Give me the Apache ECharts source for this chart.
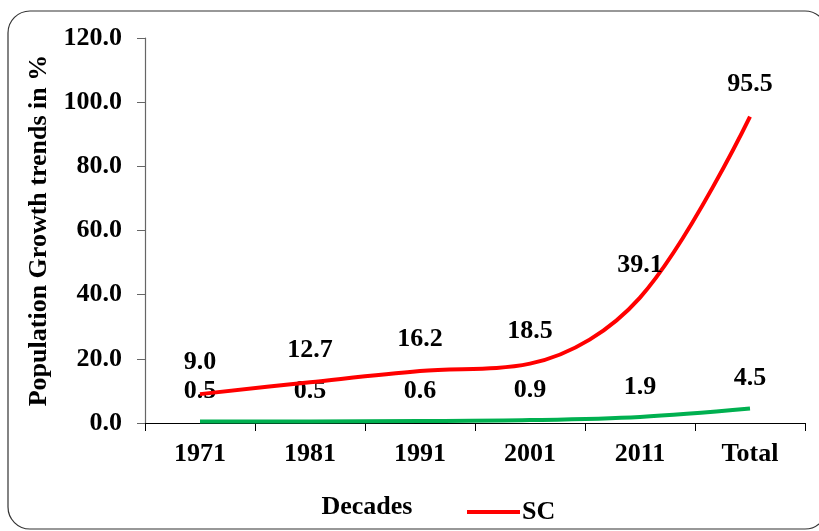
<!DOCTYPE html>
<html>
<head>
<meta charset="utf-8">
<script src="https://cdn.jsdelivr.net/npm/echarts@6/dist/echarts.min.js"></script>
<style>
  html, body { margin: 0; padding: 0; background: #fff; }
  #chart { width: 819px; height: 531px; }
</style>
</head>
<body>
<div id="chart"></div>
<script>
// Decadal population growth (%)
const decades = ['1971', '1981', '1991', '2001', '2011', 'Total'];
const scGrowth = [9.0, 12.7, 16.2, 18.5, 39.1, 95.5];
const stGrowth = [0.5, 0.5, 0.6, 0.9, 1.9, 4.5];
const yTicks = { min: 0, max: 120, step: 20 };

const FONT = '"Liberation Serif", "Times New Roman", serif';
const textStyle = { fontFamily: FONT, fontWeight: 'bold', fontSize: 26, color: '#000' };

const chart = echarts.init(document.getElementById('chart'), null, { renderer: 'canvas' });

function valueLabel(distance) {
  return {
    show: true,
    position: 'top',
    distance: distance,
    formatter: p => p.value.toFixed(1),
    fontFamily: FONT, fontWeight: 'bold', fontSize: 26, color: '#000'
  };
}

chart.setOption({
  animation: false,
  backgroundColor: '#fff',
  graphic: [{
    type: 'rect',
    shape: { x: 8, y: 11, width: 819, height: 518, r: 22 },
    style: { fill: 'none', stroke: '#333', lineWidth: 1.2 },
    z: -1
  }],
  grid: { left: 145, right: 14, top: 38, bottom: 108, outerBoundsMode: 'none', containLabel: false },
  legend: {
    data: ['SC'],
    left: 462,
    top: 494,
    icon: 'rect',
    itemWidth: 53,
    itemHeight: 4,
    itemGap: 2,
    itemStyle: { color: '#FF0000', opacity: 1 },
    textStyle: Object.assign({ padding: [0, 0, 0, -3] }, textStyle)
  },
  xAxis: {
    type: 'category',
    data: decades,
    boundaryGap: true,
    name: 'Decades',
    nameLocation: 'middle',
    nameGap: 71,
    nameTextStyle: Object.assign({ padding: [0, 216, 0, 0] }, textStyle),
    axisLine: { lineStyle: { color: '#000', width: 1.2 } },
    axisTick: { show: true, length: 8, inside: false, lineStyle: { color: '#000' } },
    axisLabel: Object.assign({ margin: 18 }, textStyle)
  },
  yAxis: {
    type: 'value',
    min: yTicks.min,
    max: yTicks.max,
    interval: yTicks.step,
    name: 'Population Growth trends in %',
    nameLocation: 'middle',
    nameGap: 92,
    nameTextStyle: Object.assign({}, textStyle),
    axisLine: { show: true, lineStyle: { color: '#666', width: 1.2 } },
    axisTick: { show: true, length: 8, lineStyle: { color: '#666' } },
    splitLine: { show: false },
    axisLabel: Object.assign({ margin: 23, formatter: v => v.toFixed(1) }, textStyle)
  },
  series: [
    {
      name: 'SC',
      type: 'line',
      data: scGrowth,
      smooth: 0.35,
      showSymbol: true,
      symbol: 'circle',
      symbolSize: 0.1,
      lineStyle: { color: '#FF0000', width: 4 },
      itemStyle: { color: '#FF0000' },
      label: valueLabel(19),
      labelLayout: { hideOverlap: false },
      z: 3
    },
    {
      name: 'ST',
      type: 'line',
      data: stGrowth,
      smooth: 0.35,
      showSymbol: true,
      symbol: 'circle',
      symbolSize: 0.1,
      lineStyle: { color: '#00B050', width: 4 },
      itemStyle: { color: '#00B050' },
      label: valueLabel(17),
      labelLayout: { hideOverlap: false },
      z: 2
    }
  ]
});
</script>
</body>
</html>
